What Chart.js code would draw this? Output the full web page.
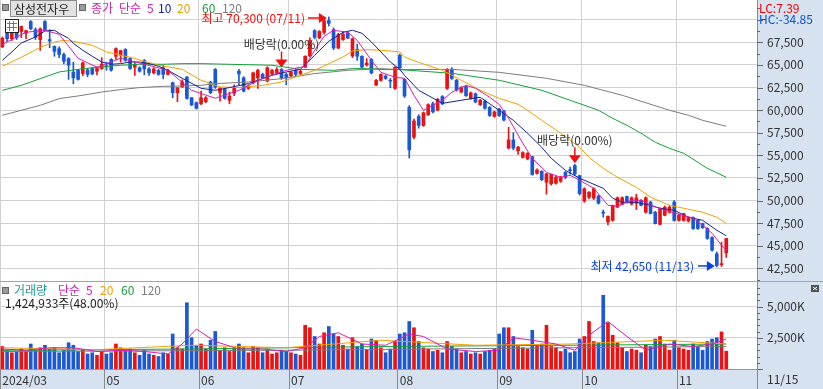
<!DOCTYPE html>
<html>
<head>
<meta charset="utf-8">
<script src="https://cdn.jsdelivr.net/npm/chart.js@4.4.1/dist/chart.umd.min.js"></script>
<style>
body { margin: 0; background: #fff; }
#wrap { position: relative; width: 823px; height: 389px; overflow: hidden; }
canvas { position: absolute; left: 0; }
#price { top: 0; }
#vol { top: 282px; }
#sep { position: absolute; left: 0; top: 281px; width: 823px; height: 1px; background: #a4a4a4; }
</style>
</head>
<body>
<div id="wrap">
  <canvas id="price" width="823" height="281"></canvas>
  <div id="sep"></div>
  <canvas id="vol" width="823" height="107"></canvas>
</div>
<script>
// trading days shown (2024/03/29 .. 2024/11/15)
const monthDays = {
  '2024/03': [29],
  '2024/04': [1,2,3,4,5,8,9,11,12,15,16,17,18,19,22,23,24,25,26,29,30],
  '2024/05': [2,3,7,8,9,10,13,14,16,17,20,21,22,23,24,27,28,29,30,31],
  '2024/06': [3,4,5,7,10,11,12,13,14,17,18,19,20,21,24,25,26,27,28],
  '2024/07': [1,2,3,4,5,8,9,10,11,12,15,16,17,18,19,22,23,24,25,26,29,30,31],
  '2024/08': [1,2,5,6,7,8,9,12,13,14,16,19,20,21,22,23,26,27,28,29,30],
  '2024/09': [2,3,4,5,6,9,10,11,12,13,19,20,23,24,25,26,27,30],
  '2024/10': [2,4,7,8,10,11,14,15,16,17,18,21,22,23,24,25,28,29,30,31],
  '2024/11': [1,4,5,6,7,8,11,12,13,14,15]
};

const opens = [67000,68650,67900,68500,68700,68500,69800,68900,67800,69800,67800,67060,66800,66150,65700,64200,64400,64050,64450,64600,
  64300,64600,64900,65600,65960,66070,66700,65700,64750,64680,65490,64560,64120,64400,64680,63950,63020,61920,62550,63650,
  61370,60820,60700,60930,63100,64500,61930,62300,61080,61870,64300,63570,62400,63020,63570,63950,63220,64000,64120,64500,
  63950,63800,64390,64050,64750,66000,68790,67980,68600,69900,68900,66870,67800,68520,66000,66700,65960,65000,65600,62770,
  63290,63760,63300,62400,66070,63400,60300,57000,59300,58300,59500,60700,60000,61500,62400,64500,63300,62000,62600,61300,
  61800,60600,61000,60300,59300,60100,59900,55800,56700,55500,54770,54600,54850,53010,53230,52020,51850,51910,52130,53120,
  53400,53860,52760,49930,50370,50260,50480,48700,47630,47800,49270,49570,50440,49600,49700,50000,48700,49830,48700,47360,
  48360,48700,49820,47800,47800,47730,48100,47800,47450,46900,45900,44100,42900,44200];
const highs = [68100,68800,68700,68700,69300,68800,69900,69100,69100,69900,68900,67100,67000,66300,65800,65300,64500,65300,64600,64700,
  64800,65800,65300,65700,66900,66600,66800,65800,65230,64800,65600,64700,64700,64500,64940,64500,63100,62500,63350,63700,
  61400,60900,62100,61500,63200,64600,62500,62400,62000,62800,64500,63700,62800,64200,64500,64100,64800,64500,64700,64600,
  64100,64300,64500,64400,66000,68000,68900,68800,70100,70300,69100,68500,68600,68700,68000,67300,66000,65700,65700,63400,
  64000,63900,63500,64800,66200,63500,60500,59000,59500,59800,60700,60900,61300,61600,64600,64700,63400,62600,62700,62000,
  61900,61200,61100,60400,59900,60200,60000,58100,57500,56000,55400,55300,54900,53500,53300,53000,52900,52700,52700,53200,
  53700,54000,52800,51400,51000,51400,50600,48950,48300,49500,50400,50400,50500,50400,50700,50100,50400,49900,48800,49200,
  49400,49400,50000,48500,48600,48200,48200,47900,47500,47000,46000,44300,45400,45800];
const lows = [66900,67600,67700,67800,68000,67900,68900,67800,66600,68800,66900,65960,65800,65100,63400,62900,63300,63800,63700,63900,
  63900,64500,64400,64300,65600,65300,65400,64500,63840,64200,63900,63840,64000,63850,63460,63900,61370,60930,62500,61200,
  60500,60100,60600,60800,61800,62400,61000,61200,60700,61600,62800,62000,62300,62900,62400,63500,63100,63900,64000,63400,
  62800,63700,63800,63900,64700,65900,67900,67900,68400,69300,66700,66800,67700,67900,65800,65500,64700,64860,64000,62700,
  63200,63400,62470,62300,64600,61400,54700,56800,58000,58200,59400,59700,59900,60600,62300,63400,62100,61900,61500,61200,
  60800,60500,60100,59300,59200,59300,58800,55700,55600,55100,54700,54500,52800,52900,52200,50700,51700,51800,52000,52400,
  52900,52800,50600,49800,50200,50100,49600,48150,47300,47700,49200,49500,49700,49500,49000,49400,48600,48500,47400,47300,
  48300,48600,47700,47700,47700,47600,46800,46800,46900,45700,44400,42650,42700,43700];
const closes = [67950,67900,68500,68000,69250,68800,69000,68050,69000,68900,67650,66500,66150,65400,64970,63570,63400,65230,63950,64000,
  64600,65100,64800,64420,66800,66590,65500,64600,65050,64300,64560,64120,64560,63950,63950,64420,61920,62470,63130,61300,
  60570,60200,61370,61370,61930,62550,62420,61300,61560,62470,64000,62100,62650,64120,64390,63570,64680,64390,64500,63570,
  63570,64200,63950,64300,65960,67700,68050,68700,69900,69600,66870,68350,68400,67970,67900,65960,64750,65200,64120,63290,
  63950,63500,63200,64750,64670,61560,55600,58800,58300,59700,60600,59800,61200,60700,64500,63500,62200,62500,61600,61900,
  60900,61100,60200,59400,59800,59400,58900,56700,55800,55900,55300,55200,52870,53380,52300,52940,52870,52570,52570,52570,
  53300,52940,50760,51300,50920,51300,49700,48600,48250,49460,50300,50300,49830,50300,50300,49460,50300,48560,47450,49090,
  49270,49270,47800,48360,48550,48100,46900,46900,47000,45800,44500,42800,43000,45800];
// volume, thousands of shares
const volK = [1800,1500,1300,1400,1600,1400,2000,1500,1700,1900,1600,1700,1300,1500,2100,1900,1400,1500,1200,1300,
  1100,1400,1200,1300,2000,1700,1500,1600,1300,1100,1500,1200,1100,1000,1300,1200,2800,1700,1600,5300,
  2500,1900,2000,1600,2300,3000,1500,1700,1400,1600,2000,1700,1300,1800,1700,1300,1600,1200,1300,1500,
  1400,1300,1200,1100,3500,3300,2600,2000,2900,3400,2800,2600,1900,1600,2500,1800,2000,1500,2400,2300,
  1700,1300,1600,2200,2800,2900,3800,3300,2200,1700,1600,1400,1500,1300,2200,1800,1600,1300,1400,1200,
  1300,1200,1400,1500,1600,2800,3300,3300,2600,1800,1700,1600,3100,1900,2000,3500,1800,1700,1400,1600,
  1300,1400,2400,2600,3800,2200,2100,5900,3700,2700,2100,1700,1400,1600,1500,1300,1900,1800,2400,2600,
  2000,1500,2300,1700,1600,1500,2000,1800,1500,2200,2400,2500,2969,1425];

// moving averages: [index, value]
const ma5Pts = [[0,67280],[5,68610],[9,68830],[12,68380],[14,67060],[16,65730],[20,64740],[25,65730],[30,65070],[35,64400],
  [40,62190],[45,61310],[50,62190],[55,63520],[60,64400],[64,64850],[66,66620],[68,68160],[70,68830],[73,68610],[75,67720],
  [78,65510],[80,64180],[83,63630],[85,63520],[87,61640],[89,59980],[93,61090],[95,61970],[98,62740],[100,62410],[103,61420],
  [105,60640],[107,59090],[110,56330],[112,54670],[115,53120],[118,52570],[120,52790],[122,52240],[125,51350],[128,49470],
  [130,49360],[133,50030],[135,50030],[137,49470],[140,48920],[143,48480],[146,48030],[148,47260],[150,46380],[152,45050],[153,44500]];
const ma10Pts = [[0,65510],[2,66430],[4,67420],[7,68090],[9,68750],[11,68830],[12,68500],[14,67940],[15,67390],[17,66620],
  [19,65950],[21,65320],[23,65070],[25,65140],[27,65320],[29,65320],[31,65140],[33,64850],[35,64400],[38,63520],[42,62410],
  [45,62190],[48,62490],[52,62930],[55,63480],[57,63850],[60,64220],[63,64510],[66,66060],[69,67610],[72,68610],[74,68830],
  [76,68500],[78,67530],[80,66430],[82,65320],[84,64510],[85,63850],[88,62190],[93,60750],[97,61090],[101,61420],[105,59980],
  [108,58870],[111,57440],[114,55890],[116,54670],[119,53340],[122,52460],[124,52020],[127,51350],[129,50250],[131,49800],
  [134,49800],[137,49470],[139,49140],[142,48920],[145,48150],[148,47810],[151,46710],[153,46100]];
const ma20Pts = [[0,64850],[4,65840],[8,66950],[11,67530],[13,67720],[15,67610],[19,67170],[22,66430],[27,65840],[33,64960],
  [38,64510],[42,63300],[46,62560],[50,62490],[55,62740],[59,63110],[63,63850],[66,64400],[69,65140],[72,65870],[74,66540],
  [77,66690],[80,66620],[82,66540],[84,66430],[85,65870],[88,65290],[93,64400],[97,63300],[101,62190],[105,61310],[109,60640],
  [111,59980],[114,58870],[118,57440],[122,55890],[124,54780],[127,53560],[130,52570],[134,51460],[137,50360],[141,49470],
  [144,49140],[148,48700],[151,48150],[153,47480]];
const ma60Pts = [[0,62190],[4,62740],[8,63480],[12,64220],[17,64590],[21,64770],[25,64960],[29,65070],[34,65070],[38,65140],
  [42,65140],[57,64960],[63,64510],[70,64400],[74,64590],[77,64590],[81,64480],[84,64480],[95,64070],[105,63300],[114,62190],
  [120,61090],[126,59980],[129,59090],[132,58320],[135,57440],[138,56440],[141,55780],[144,55220],[147,54230],[149,53560],[153,52570]];
const ma120Pts = [[0,59430],[4,59980],[8,60530],[12,61270],[17,61640],[21,62000],[25,62270],[29,62490],[34,62630],[38,62670],
  [42,62740],[45,62930],[52,63110],[59,63480],[66,64040],[73,64400],[80,64590],[84,64480],[95,64510],[105,64180],[115,63520],
  [123,62740],[131,61640],[141,59980],[145,59430],[148,58870],[153,58210]];
const vma5Pts = [[0,1600],[5,1500],[10,1700],[15,1700],[20,1400],[25,1500],[30,1400],[35,1200],[38,2000],[41,3200],[45,2200],
  [50,1600],[55,1600],[60,1400],[64,1700],[67,2600],[71,2900],[76,2000],[81,1900],[86,2800],[89,2600],[94,1600],[100,1400],
  [105,1500],[108,2500],[112,2300],[117,2000],[121,1500],[124,2700],[128,3800],[132,2600],[136,1500],[141,2000],[146,1800],
  [150,2000],[153,2400]];
const vma20Pts = [[0,1700],[20,1550],[40,1900],[60,1700],[80,2300],[100,1900],[120,2000],[140,2300],[153,2000]];
const vma60Pts = [[0,1500],[40,1600],[80,1800],[120,1900],[153,2000]];
const vma120Pts = [[0,1400],[60,1500],[120,1700],[153,1800]];

const priceTicks = [42500,45000,47500,50000,52500,55000,57500,60000,62500,65000,67500,70000];
const volTicks = [2500,5000];

const N = 160;
const PMIN = 41095, PMAX = 72180, VMAX = 6960;
const RED = '#ec1212', BLUE = '#1a58d4', GRID = '#d2d2d2', PANEL = '#d6e2f0';
const C5 = '#d21fb4', C10 = '#14228f', C20 = '#f0a000', C60 = '#16a03a', C120 = '#7c7c7c';
const FONT = "'Noto Sans CJK KR', 'Noto Sans', sans-serif";
Chart.defaults.font.family = FONT;

const dates = [];
Object.entries(monthDays).forEach(([m, days]) => days.forEach(d => dates.push(m + '/' + String(d).padStart(2, '0'))));
const labels = dates.concat(Array(N - dates.length).fill(''));
const monthMarks = [];
dates.forEach((d, i) => {
  const m = d.slice(5, 7);
  if (i === 0) monthMarks.push([i, d.slice(0, 7)]);
  else if (m !== dates[i - 1].slice(5, 7) && i - monthMarks[monthMarks.length - 1][0] > 10) monthMarks.push([i, m]);
});
const markIdx = new Map(monthMarks);

function sparse(pts) {
  const a = new Array(N).fill(null);
  pts.forEach(([i, v]) => { a[i] = v; });
  return a;
}
function maLine(pts, color) {
  return { type: 'line', data: sparse(pts), borderColor: color, borderWidth: 1, pointRadius: 0, spanGaps: true, tension: 0, order: 0 };
}
const candleColor = closes.map((c, i) => c >= opens[i] ? RED : BLUE);

// no automatic label padding around the plot area
function noPad(s) {
  s.paddingTop = 0; s.paddingBottom = 0; s.paddingLeft = 0; s.paddingRight = 0;
}

function txt(ctx, s, x, y, color, align) {
  ctx.save();
  ctx.font = '12px ' + FONT;
  ctx.fillStyle = color;
  ctx.textAlign = align || 'left';
  ctx.textBaseline = 'middle';
  ctx.fillText(s, x, y);
  ctx.restore();
}

const panelBg = {
  id: 'panelBg',
  beforeDraw(chart) {
    const { ctx, chartArea: a, width, height } = chart;
    ctx.save();
    ctx.fillStyle = PANEL;
    ctx.fillRect(a.right, 0, width - a.right, height);
    if (chart.canvas.id === 'vol') ctx.fillRect(0, a.bottom, width, height - a.bottom);
    ctx.restore();
  }
};

function sideTicks(chart, step, major) {
  const { ctx, chartArea: a, scales: { y } } = chart;
  ctx.save();
  ctx.strokeStyle = '#666';
  ctx.lineWidth = 1;
  for (let v = Math.ceil(y.min / step) * step; v <= y.max; v += step) {
    const py = Math.round(y.getPixelForValue(v)) + 0.5;
    const len = v % major === 0 ? 6 : 3;
    ctx.beginPath();
    ctx.moveTo(a.right, py);
    ctx.lineTo(a.right + len, py);
    ctx.stroke();
  }
  ctx.restore();
}

function arrowRight(ctx, x0, x1, y, color) {
  ctx.save();
  ctx.strokeStyle = color; ctx.fillStyle = color; ctx.lineWidth = 1.5;
  ctx.beginPath(); ctx.moveTo(x0, y); ctx.lineTo(x1 - 6, y); ctx.stroke();
  ctx.beginPath(); ctx.moveTo(x1, y); ctx.lineTo(x1 - 8, y - 5); ctx.lineTo(x1 - 8, y + 5); ctx.closePath(); ctx.fill();
  ctx.restore();
}
function arrowDown(ctx, x, y0, y1, color) {
  ctx.save();
  ctx.strokeStyle = color; ctx.fillStyle = color; ctx.lineWidth = 1.5;
  ctx.beginPath(); ctx.moveTo(x, y0); ctx.lineTo(x, y1 - 6); ctx.stroke();
  ctx.beginPath(); ctx.moveTo(x, y1); ctx.lineTo(x - 6, y1 - 8); ctx.lineTo(x + 6, y1 - 8); ctx.closePath(); ctx.fill();
  ctx.restore();
}

const priceDeco = {
  id: 'priceDeco',
  afterDraw(chart) {
    const { ctx, scales: { x, y } } = chart;
    sideTicks(chart, 1250, 2500);

    // header
    ctx.save();
    ctx.fillStyle = '#9a9a9a'; ctx.strokeStyle = '#666';
    ctx.fillRect(3, 5, 5, 5); ctx.strokeRect(2.5, 4.5, 6, 6);
    ctx.fillRect(80, 5, 5, 5); ctx.strokeRect(79.5, 4.5, 6, 6);
    ctx.fillStyle = '#e2e2e2'; ctx.fillRect(11, 1, 65, 15);
    ctx.strokeStyle = '#8a8a8a'; ctx.strokeRect(10.5, 0.5, 66, 16);
    ctx.fillStyle = '#fff'; ctx.fillRect(5, 19, 13, 13);
    ctx.strokeStyle = '#222'; ctx.strokeRect(5.5, 19.5, 13, 13);
    ctx.strokeStyle = '#777';
    ctx.beginPath();
    ctx.moveTo(9.5, 21); ctx.lineTo(9.5, 31); ctx.moveTo(13.5, 21); ctx.lineTo(13.5, 31);
    ctx.moveTo(7, 23.5); ctx.lineTo(17, 23.5); ctx.moveTo(7, 27.5); ctx.lineTo(17, 27.5);
    ctx.stroke();
    ctx.restore();
    txt(ctx, '삼성전자우', 14, 9, '#222');
    txt(ctx, '종가', 91, 8, C5);
    txt(ctx, '단순', 119, 8, C5);
    txt(ctx, '5', 147, 8, C5);
    txt(ctx, '10', 158, 8, C10);
    txt(ctx, '20', 177, 8, C20);
    txt(ctx, '60', 202, 8, C60);
    txt(ctx, '120', 222, 8, C120);
    txt(ctx, 'LC:7.39', 759, 8, '#f00000');
    txt(ctx, 'HC:-34.85', 759, 19, '#0a52d8');

    // high / low markers
    const hiIdx = highs.indexOf(Math.max(...highs));
    const loIdx = lows.indexOf(Math.min(...lows));
    const hy = y.getPixelForValue(highs[hiIdx]) + 1;
    txt(ctx, '최고 ' + highs[hiIdx].toLocaleString('en-US') + ' (' + dates[hiIdx].slice(5) + ')', 305, hy, '#f01010', 'right');
    arrowRight(ctx, 308, x.getPixelForValue(hiIdx) - 2, hy, '#f01010');
    const ly = y.getPixelForValue(lows[loIdx]) - 1;
    txt(ctx, '최저 ' + lows[loIdx].toLocaleString('en-US') + ' (' + dates[loIdx].slice(5) + ')', 694, ly, '#0a40e0', 'right');
    arrowRight(ctx, 698, x.getPixelForValue(loIdx) - 2, ly, '#0a40e0');

    // ex-dividend marks
    ['2024/06/27', '2024/09/27'].forEach(d => {
      const i = dates.indexOf(d);
      const px = x.getPixelForValue(i);
      const tip = y.getPixelForValue(highs[i]) - 1;
      txt(ctx, '배당락(0.00%)', px, tip - 23, '#333', 'center');
      arrowDown(ctx, px, tip - 16, tip, '#f01010');
    });
  }
};

new Chart(document.getElementById('price'), {
  type: 'bar',
  data: {
    labels,
    datasets: [
      maLine(ma5Pts, C5), maLine(ma10Pts, C10), maLine(ma20Pts, C20), maLine(ma60Pts, C60), maLine(ma120Pts, C120),
      { data: lows.map((l, i) => [l, highs[i]]), backgroundColor: candleColor, barThickness: 1, grouped: false, order: 1 },
      { data: opens.map((o, i) => [o, closes[i]]), backgroundColor: candleColor, barThickness: 3, grouped: false, minBarLength: 1, order: 1 }
    ]
  },
  options: {
    responsive: false, animation: false, events: [],
    layout: { padding: 0, autoPadding: false },
    plugins: { legend: { display: false }, tooltip: { enabled: false } },
    scales: {
      x: {
        offset: true,
        grid: { offset: true, drawTicks: false, color: c => markIdx.has(c.index) ? GRID : 'rgba(0,0,0,0)' },
        ticks: { display: false, autoSkip: false },
        border: { display: false },
        afterFit: s => { s.height = 0; noPad(s); }
      },
      y: {
        position: 'right', min: PMIN, max: PMAX, bounds: 'data',
        afterBuildTicks: s => { s.ticks = priceTicks.map(v => ({ value: v })); },
        afterFit: s => { s.width = 66; noPad(s); },
        grid: { color: GRID, drawTicks: false },
        border: { color: '#8c8c8c' },
        ticks: { padding: 10, color: '#333', font: { size: 12 },
          callback: v => v > 68000 ? '' : v.toLocaleString('en-US') }
      }
    }
  },
  plugins: [panelBg, priceDeco]
});

const volDeco = {
  id: 'volDeco',
  afterDraw(chart) {
    const { ctx, chartArea: a, scales: { x }, height } = chart;
    sideTicks(chart, 500, 2500);
    const step = x.getPixelForValue(1) - x.getPixelForValue(0);
    ctx.save();
    ctx.strokeStyle = '#8a8a8a';
    ctx.beginPath();
    monthMarks.forEach(([i]) => {
      const px = Math.round(x.getPixelForValue(i) - step / 2) + 0.5;
      ctx.moveTo(px, a.bottom); ctx.lineTo(px, height);
    });
    ctx.moveTo(a.right + 0.5, a.bottom); ctx.lineTo(a.right + 0.5, height);
    ctx.stroke();
    // small header marks
    ctx.fillStyle = '#9a9a9a'; ctx.strokeStyle = '#666';
    ctx.fillRect(3, 6, 5, 5); ctx.strokeRect(2.5, 5.5, 6, 6);
    ctx.fillStyle = '#505050'; ctx.fillRect(811, 3, 8, 7);
    ctx.strokeStyle = '#fff';
    ctx.beginPath(); ctx.moveTo(813, 5); ctx.lineTo(817, 8); ctx.moveTo(817, 5); ctx.lineTo(813, 8); ctx.stroke();
    ctx.restore();
    txt(ctx, '거래량', 14, 8, '#1a9a9a');
    txt(ctx, '단순', 58, 8, C5);
    txt(ctx, '5', 86, 8, C5);
    txt(ctx, '20', 100, 8, C20);
    txt(ctx, '60', 121, 8, C60);
    txt(ctx, '120', 141, 8, C120);
    const last = volK.length - 1;
    txt(ctx, '1,424,933주(' + (volK[last] / volK[last - 1] * 100).toFixed(2) + '%)', 5, 21, '#222');
    txt(ctx, dates[last].slice(5), 767, a.bottom + 10, '#333');
  }
};

new Chart(document.getElementById('vol'), {
  type: 'bar',
  data: {
    labels,
    datasets: [
      maLine(vma5Pts, C5), maLine(vma20Pts, C20), maLine(vma60Pts, C60), maLine(vma120Pts, C120),
      { data: volK, backgroundColor: candleColor, barThickness: 3, grouped: false, order: 1 }
    ]
  },
  options: {
    responsive: false, animation: false, events: [],
    layout: { padding: 0, autoPadding: false },
    plugins: { legend: { display: false }, tooltip: { enabled: false } },
    scales: {
      x: {
        offset: true,
        grid: { offset: true, drawTicks: false, color: c => markIdx.has(c.index) ? GRID : 'rgba(0,0,0,0)' },
        border: { color: '#9a9a9a' },
        ticks: { autoSkip: false, maxRotation: 0, minRotation: 0, align: 'start', padding: 4, color: '#333', font: { size: 12 },
          callback: (v, i) => markIdx.get(i) || '' },
        afterFit: s => { s.height = 20; noPad(s); }
      },
      y: {
        position: 'right', min: 0, max: VMAX, bounds: 'data',
        afterBuildTicks: s => { s.ticks = volTicks.map(v => ({ value: v })); },
        afterFit: s => { s.width = 66; noPad(s); },
        grid: { color: GRID, drawTicks: false },
        border: { color: '#8c8c8c' },
        ticks: { padding: 10, color: '#333', font: { size: 12 }, callback: v => v.toLocaleString('en-US') + 'K' }
      }
    }
  },
  plugins: [panelBg, volDeco]
});
</script>
</body>
</html>
